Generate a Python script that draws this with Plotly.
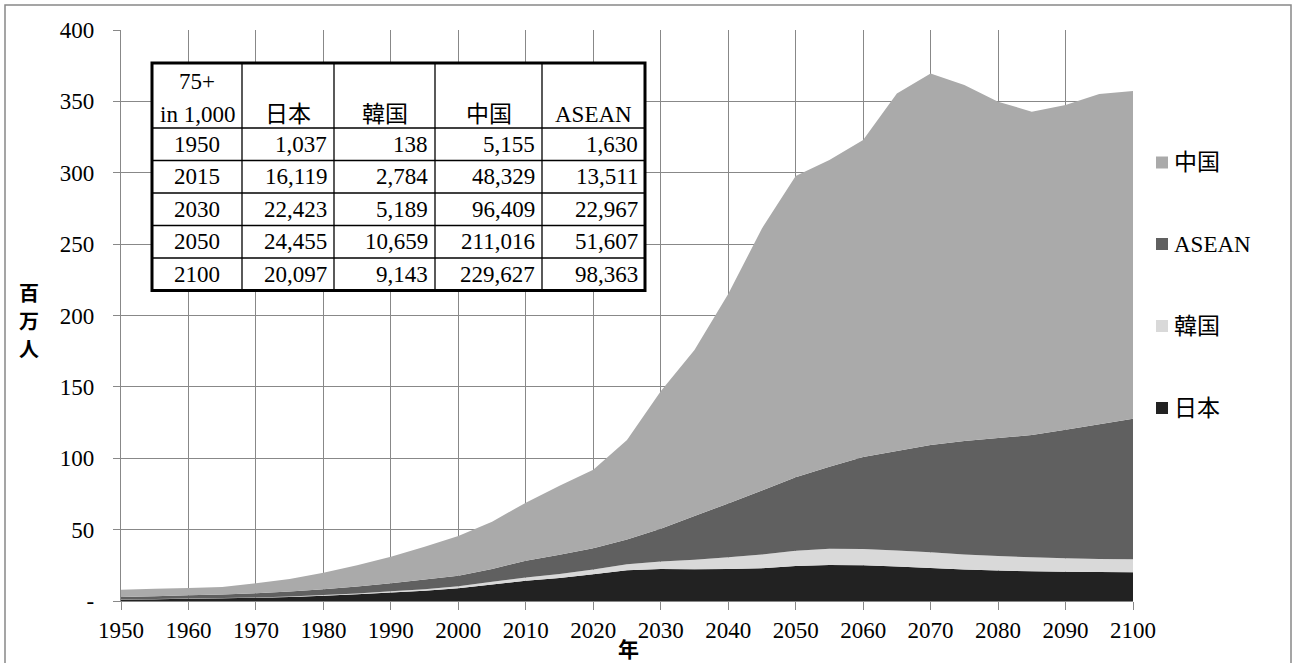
import plotly.graph_objects as go

# ---- 75+ population by region, millions (5-year steps) ----
years = list(range(1950, 2101, 5))

japan = [1.037, 1.25, 1.6, 1.9, 2.2, 2.8, 3.7, 4.7, 6.0, 7.2, 9.0, 11.6, 14.2,
         16.119, 18.7, 21.6, 22.423, 22.2, 22.4, 23.0, 24.455, 25.3, 25.0,
         24.2, 23.1, 22.0, 21.3, 20.8, 20.5, 20.3, 20.097]
korea = [0.138, 0.16, 0.19, 0.23, 0.28, 0.36, 0.47, 0.62, 0.81, 1.03, 1.34,
         1.82, 2.25, 2.784, 3.45, 4.1, 5.189, 6.7, 8.2, 9.5, 10.659, 11.3,
         11.4, 11.2, 11.0, 10.6, 10.2, 9.8, 9.4, 9.2, 9.143]
asean = [1.630, 2.0, 2.2, 2.45, 2.92, 3.54, 4.03, 4.78, 5.59, 6.77, 7.36,
         9.08, 11.75, 13.511, 14.75, 17.3, 22.967, 30.7, 37.7, 44.9, 51.607,
         57.4, 64.4, 69.6, 75.1, 79.4, 82.7, 85.6, 90.1, 94.3, 98.363]
china = [5.155, 5.1, 5.1, 5.3, 7.0, 8.7, 11.6, 14.9, 18.6, 23.0, 27.8, 33.1,
         40.7, 48.329, 55.1, 69.8, 96.409, 116.2, 146.7, 183.6, 211.016,
         215.0, 222.2, 250.6, 260.4, 249.5, 235.6, 226.6, 227.5, 231.4,
         229.627]

# stacking order, bottom to top
series_names = ["日本", "韓国", "ASEAN", "中国"]
series_colors = ["#222222", "#d9d9d9", "#606060", "#aaaaaa"]

# ---- inset table (thousands) ----
table_corner = ["75+", "in 1,000"]
table_headers = ["日本", "韓国", "中国", "ASEAN"]
table_years = [1950, 2015, 2030, 2050, 2100]
table_japan = [1037, 16119, 22423, 24455, 20097]
table_korea = [138, 2784, 5189, 10659, 9143]
table_china = [5155, 48329, 96409, 211016, 229627]
table_asean = [1630, 13511, 22967, 51607, 98363]

x_ticks = list(range(1950, 2101, 10))
y_ticks = list(range(0, 401, 50))
y_ticktext = ["-"] + [str(v) for v in y_ticks[1:]]
y_title_chars = ["百", "万", "人"]
x_title = "年"

# ---- figure geometry (pixels) ----
W, H = 1294, 663
L, R, T, B = 121, 1133, 30, 601
GRID = "#888888"
SERIF = "Liberation Serif, Noto Sans CJK JP"
SANS = "Noto Sans CJK JP"
FS = 23


def X(px):
    return (px - L) / (R - L)


def Y(py):
    return (B - py) / (B - T)


fig = go.Figure()
series_values = [japan, korea, asean, china]
for name, vals, col in zip(series_names, series_values, series_colors):
    fig.add_trace(go.Scatter(
        x=years, y=vals, name=name, stackgroup="one", mode="none",
        fillcolor=col, line=dict(width=0), hoverinfo="x+y+name"))

shapes = []
annotations = []

# outer chart frame (bottom edge runs past the page)
shapes.append(dict(type="rect", xref="paper", yref="paper",
                   x0=X(5), x1=X(1291), y0=Y(668), y1=Y(5),
                   line=dict(color=GRID, width=1.5), layer="above"))

# ---- inset table ----
col_edges = [152, 242, 334, 435, 542, 645]
row_edges = [63, 128, 160.5, 193, 225.5, 258, 290.5]
shapes.append(dict(type="rect", xref="paper", yref="paper",
                   x0=X(col_edges[0]), x1=X(col_edges[-1]),
                   y0=Y(row_edges[-1]), y1=Y(row_edges[0]),
                   fillcolor="white", line=dict(width=0), layer="above"))
for cx in col_edges[1:-1]:
    shapes.append(dict(type="line", xref="paper", yref="paper",
                       x0=X(cx), x1=X(cx), y0=Y(row_edges[-1]), y1=Y(row_edges[0]),
                       line=dict(color="black", width=1.3), layer="above"))
for ry in row_edges[1:-1]:
    shapes.append(dict(type="line", xref="paper", yref="paper",
                       x0=X(col_edges[0]), x1=X(col_edges[-1]), y0=Y(ry), y1=Y(ry),
                       line=dict(color="black", width=1.3), layer="above"))
shapes.append(dict(type="rect", xref="paper", yref="paper",
                   x0=X(col_edges[0]), x1=X(col_edges[-1]),
                   y0=Y(row_edges[-1]), y1=Y(row_edges[0]),
                   line=dict(color="black", width=3), layer="above"))


def cell_text(text, px, py, anchor="center"):
    annotations.append(dict(xref="paper", yref="paper", x=X(px), y=Y(py),
                            text=text, showarrow=False, xanchor=anchor,
                            yanchor="middle",
                            font=dict(family=SERIF, size=FS, color="black")))


# header
c0 = (col_edges[0] + col_edges[1]) / 2
cell_text(table_corner[0], c0, 81)
cell_text(table_corner[1], c0, 114)
for i, h in enumerate(table_headers):
    cell_text(h, (col_edges[i + 1] + col_edges[i + 2]) / 2, 114)

# body
table_cols = [table_japan, table_korea, table_china, table_asean]
for r, yr in enumerate(table_years):
    cy = (row_edges[r + 1] + row_edges[r + 2]) / 2
    cell_text(str(yr), c0, cy)
    for c, colvals in enumerate(table_cols):
        cell_text(f"{colvals[r]:,}", col_edges[c + 2] - 5, cy, anchor="right")

# ---- legend (top to bottom: 中国, ASEAN, 韓国, 日本) ----
legend_y = [162.5, 244, 326, 408]
for k, idx in enumerate(reversed(range(len(series_names)))):
    cy = legend_y[k]
    shapes.append(dict(type="rect", xref="paper", yref="paper",
                       x0=X(1156), x1=X(1168), y0=Y(cy + 6), y1=Y(cy - 6),
                       fillcolor=series_colors[idx], line=dict(width=0)))
    annotations.append(dict(xref="paper", yref="paper", x=X(1172), y=Y(cy),
                            text=series_names[idx], showarrow=False,
                            xanchor="left", yanchor="middle",
                            font=dict(family=SERIF, size=FS, color="black")))

# ---- axis titles ----
for ch, cy in zip(y_title_chars, [292, 320, 348]):
    annotations.append(dict(xref="paper", yref="paper", x=X(29), y=Y(cy),
                            text=f"<b>{ch}</b>", showarrow=False,
                            xanchor="center", yanchor="middle",
                            font=dict(family=SANS, size=20, color="black")))
annotations.append(dict(xref="paper", yref="paper", x=X(628), y=Y(648),
                        text=f"<b>{x_title}</b>", showarrow=False,
                        xanchor="center", yanchor="middle",
                        font=dict(family=SANS, size=21, color="black")))

fig.update_layout(
    width=W, height=H,
    margin=dict(l=L, r=W - R, t=T, b=H - B, pad=0),
    paper_bgcolor="white", plot_bgcolor="white",
    showlegend=False,
    shapes=shapes, annotations=annotations,
    xaxis=dict(range=[1950, 2100], tickvals=x_ticks,
               showgrid=True, gridcolor=GRID, gridwidth=1.3,
               showline=True, linecolor=GRID, linewidth=1.3,
               ticks="outside", ticklen=8, tickcolor=GRID, tickwidth=1.3,
               tickfont=dict(family=SERIF, size=FS, color="black"),
               zeroline=False, fixedrange=True),
    yaxis=dict(range=[0, 400], tickvals=y_ticks, ticktext=y_ticktext,
               showgrid=True, gridcolor=GRID, gridwidth=1.3,
               showline=True, linecolor=GRID, linewidth=1.3,
               ticks="outside", ticklen=7, tickcolor=GRID, tickwidth=1.3,
               ticklabelstandoff=14,
               tickfont=dict(family=SERIF, size=FS, color="black"),
               zeroline=False, fixedrange=True),
)

fig.write_html("out.html")
